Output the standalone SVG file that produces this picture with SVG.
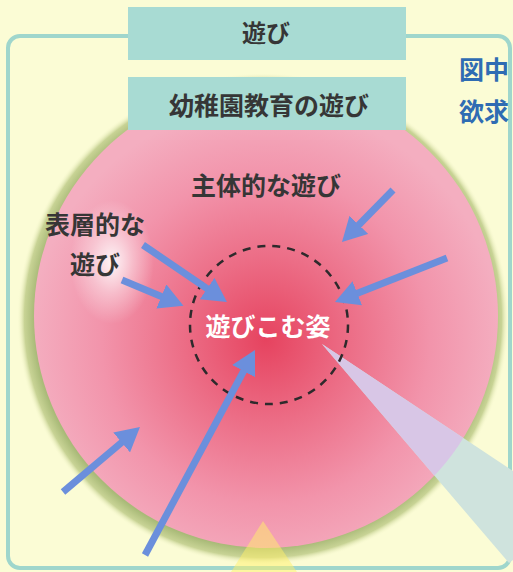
<svg xmlns="http://www.w3.org/2000/svg" width="513" height="572" viewBox="0 0 513 572">
<defs>
<style>
.lbl{font-family:"Noto Sans CJK JP","Noto Sans",sans-serif;font-weight:bold;fill:#363636;text-anchor:middle}
.blue{font-family:"Noto Sans CJK JP","Noto Sans",sans-serif;font-weight:bold;fill:#2f6cb3;font-size:25px}
.box{fill:#a8dbd3}
.arr{stroke:#6b8fdc;stroke-width:7;fill:none;marker-end:url(#ah)}
</style>
<marker id="ah" markerUnits="userSpaceOnUse" markerWidth="24" markerHeight="26" viewBox="0 0 24 26" refX="4" refY="13" orient="auto">
<path d="M0,0 L24,13 L0,26 z" fill="#6b8fdc"/>
</marker>
<radialGradient id="halo" gradientUnits="userSpaceOnUse" cx="263" cy="319" r="246">
<stop offset="0.93" stop-color="#a9ba78"/>
<stop offset="0.97" stop-color="#c8d395"/>
<stop offset="1" stop-color="#fbfcd5" stop-opacity="0"/>
</radialGradient>
<radialGradient id="pink" gradientUnits="userSpaceOnUse" cx="266" cy="340" r="235">
<stop offset="0" stop-color="#e6435f"/>
<stop offset="0.35" stop-color="#ec6d86"/>
<stop offset="0.7" stop-color="#f294ab"/>
<stop offset="1" stop-color="#f4aec0"/>
</radialGradient>
<radialGradient id="glow">
<stop offset="0" stop-color="#ffffff" stop-opacity="0.9"/>
<stop offset="0.5" stop-color="#ffffff" stop-opacity="0.4"/>
<stop offset="1" stop-color="#ffffff" stop-opacity="0"/>
</radialGradient>
<clipPath id="cc"><circle cx="266" cy="316" r="232"/></clipPath>
</defs>
<rect width="513" height="572" fill="#fbfcd5"/>
<rect x="8" y="36" width="502" height="532" rx="12" fill="none" stroke="#9fd6cc" stroke-width="4"/>
<g id="circle">
<circle cx="263" cy="319" r="246" fill="url(#halo)"/>
<circle cx="266" cy="316" r="232" fill="url(#pink)"/>
<ellipse cx="112" cy="262" rx="42" ry="62" fill="url(#glow)"/>
</g>
<g id="beam">
<polygon points="322,344 513,471 513,560 509,563" fill="#cfe3dd"/>
<polygon points="322,344 513,471 513,560 509,563" fill="#d8c6e6" clip-path="url(#cc)"/>
</g>
<g id="triangle">
<polygon points="263,521 231,572 297,572" fill="#fff06a" opacity="0.5"/>
</g>
<g id="box-asobi">
<rect class="box" x="128" y="7" width="278" height="53"/>
<text class="lbl" x="266" y="42" font-size="24">遊び</text>
</g>
<g id="box-youchien">
<rect class="box" x="128" y="77" width="278" height="53"/>
<text class="lbl" x="269" y="115" font-size="25">幼稚園教育の遊び</text>
</g>
<g id="side-text">
<text class="blue" x="459" y="79">図中</text>
<text class="blue" x="459" y="121">欲求</text>
</g>
<g id="dashed-core">
<circle cx="269" cy="325" r="79" fill="none" stroke="#2e2a2c" stroke-width="2.5" stroke-dasharray="8 7"/>
</g>
<g id="labels">
<text class="lbl" x="266" y="195" font-size="25">主体的な遊び</text>
<text class="lbl" x="95" y="234" font-size="25">表層的な</text>
<text class="lbl" x="95" y="274" font-size="25">遊び</text>
<text class="lbl" x="268" y="336" font-size="25" style="fill:#ffffff">遊びこむ姿</text>
</g>
<g id="connectors">
<line class="arr" x1="393" y1="190" x2="356" y2="227.7"/>
<line class="arr" x1="447" y1="258" x2="353.6" y2="294.7"/>
<line class="arr" x1="143" y1="245" x2="210.4" y2="290.8"/>
<line class="arr" x1="122" y1="280" x2="165" y2="298"/>
<line class="arr" x1="63" y1="492" x2="124.7" y2="439.9"/>
<line class="arr" x1="145" y1="555" x2="245.5" y2="367.6"/>
</g>
</svg>
